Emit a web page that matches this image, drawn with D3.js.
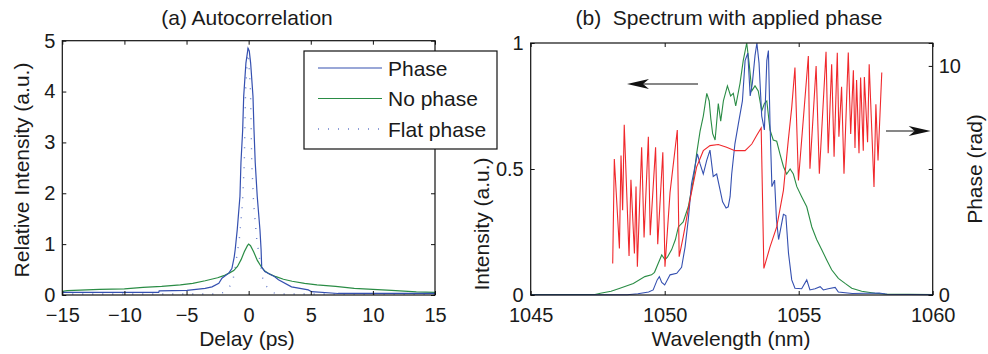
<!DOCTYPE html>
<html><head><meta charset="utf-8">
<script src="https://cdn.jsdelivr.net/npm/d3@7"></script>
<style>
html,body{margin:0;padding:0;background:#fff;}
text{font-family:"Liberation Sans",Arial,Helvetica,sans-serif;fill:#1a1a1a;}
</style></head>
<body><svg id="c" width="988" height="354"></svg>
<script>
// ---------- DATA ----------
// (a) autocorrelation
const acPhaseDelay = [-15,-7.24,-7.2,-4.96,-3.5,-2.95,-2.4,-2.15,-1.6,-1.35,-1.16,-1.08,-0.92,-0.7,-0.62,-0.48,-0.4,-0.22,-0.05,0.05,0.16,0.35,0.43,0.53,0.69,0.91,1.0,1.05,1.3,2.1,2.4,3.45,4.8,5.07,7.2,15];
const acPhase      = [0.05,0.05,0.08,0.09,0.13,0.16,0.23,0.33,0.43,0.52,0.75,0.9,1.28,1.94,2.6,3.25,3.9,4.56,4.85,4.8,4.56,3.9,3.25,2.6,1.94,1.28,0.9,0.55,0.46,0.36,0.3,0.16,0.1,0.065,0.03,0.03];
const acNoPhaseDelay = [-15,-14.6,-12,-10,-8.5,-7,-5.5,-4.5,-3.5,-2.5,-2,-1.5,-1.2,-0.9,-0.6,-0.35,-0.1,0,0.15,0.4,0.7,1.0,1.3,1.7,2.2,2.8,3.5,4.5,5.5,7,8.5,10,11.5,13.5,15];
const acNoPhase      = [0.07,0.085,0.11,0.12,0.15,0.17,0.2,0.23,0.28,0.34,0.38,0.44,0.48,0.56,0.7,0.85,0.97,1.0,0.97,0.85,0.68,0.56,0.47,0.41,0.36,0.31,0.27,0.23,0.2,0.17,0.13,0.11,0.09,0.06,0.05];
const acFlatDelay = [-15,-2.5,-2.0,-1.3,-1.05,-0.75,-0.5,-0.35,-0.25,-0.05,0.15,0.25,0.4,0.65,0.95,1.2,1.9,2.4,15];
const acFlat      = [0.02,0.02,0.05,0.23,0.6,1.1,1.8,2.6,4.0,4.85,4.0,2.6,1.8,1.1,0.6,0.23,0.05,0.02,0.02];
const legendLabels = ["Phase","No phase","Flat phase"];
// (b) spectrum
const specNoPhaseWl = [1045,1047.4,1047.6,1048.0,1048.33,1048.83,1049.26,1049.51,1049.62,1049.76,1049.89,1050.01,1050.1,1050.26,1050.4,1050.51,1050.69,1050.88,1051.07,1051.19,1051.32,1051.44,1051.57,1051.66,1051.72,1051.79,1051.88,1052.0,1052.09,1052.19,1052.34,1052.46,1052.56,1052.65,1052.81,1052.93,1053.06,1053.15,1053.25,1053.37,1053.49,1053.62,1053.72,1053.81,1053.93,1054.05,1054.18,1054.3,1054.43,1054.55,1054.68,1054.8,1054.93,1055.11,1055.3,1055.49,1055.67,1055.86,1056.04,1056.23,1056.48,1056.73,1056.98,1057.35,1057.85,1058.22,1060];
const specNoPhase   = [0.002,0.002,0.007,0.015,0.027,0.046,0.073,0.08,0.09,0.126,0.159,0.14,0.15,0.18,0.22,0.27,0.29,0.35,0.456,0.56,0.65,0.71,0.80,0.77,0.70,0.64,0.615,0.76,0.69,0.77,0.83,0.79,0.80,0.75,0.84,0.93,1.0,0.92,0.81,0.83,0.81,0.73,0.76,0.77,0.655,0.615,0.61,0.56,0.51,0.48,0.50,0.48,0.43,0.39,0.35,0.27,0.22,0.18,0.14,0.10,0.066,0.046,0.027,0.015,0.007,0.004,0.002];
const specPhaseWl = [1045,1048.6,1049.0,1049.4,1049.57,1049.72,1049.8,1049.89,1050.0,1050.2,1050.45,1050.63,1050.76,1050.88,1051.0,1051.13,1051.22,1051.32,1051.44,1051.57,1051.69,1051.81,1051.94,1052.06,1052.16,1052.29,1052.37,1052.44,1052.5,1052.62,1052.75,1052.9,1053.0,1053.1,1053.19,1053.27,1053.37,1053.44,1053.52,1053.62,1053.72,1053.81,1053.87,1053.93,1054.0,1054.1,1054.17,1054.25,1054.34,1054.43,1054.52,1054.62,1054.74,1054.86,1055.11,1055.3,1055.42,1055.61,1055.8,1055.92,1056.1,1056.36,1056.48,1057.0,1058.0,1058.3,1060];
const specPhase   = [0.001,0.001,0.005,0.012,0.02,0.06,0.073,0.05,0.04,0.08,0.086,0.11,0.19,0.30,0.44,0.51,0.56,0.52,0.48,0.535,0.575,0.47,0.48,0.42,0.37,0.345,0.35,0.39,0.48,0.6,0.68,0.77,0.93,0.96,0.79,0.84,0.95,1.0,0.92,0.71,0.655,0.93,0.97,0.68,0.43,0.456,0.30,0.22,0.27,0.32,0.315,0.165,0.06,0.027,0.025,0.06,0.02,0.025,0.033,0.02,0.025,0.03,0.012,0.006,0.008,0.003,0.001];
const phaseWl  = [1048.06,1048.12,1048.31,1048.37,1048.43,1048.49,1048.67,1048.74,1048.87,1048.93,1048.98,1049.14,1049.23,1049.39,1049.46,1049.66,1049.74,1049.93,1050.01,1050.2,1050.47,1050.54,1050.69,1050.94,1051.19,1051.44,1051.69,1052.0,1052.31,1052.62,1053.0,1053.25,1053.43,1053.6,1053.7,1053.93,1054.18,1054.43,1054.61,1054.74,1054.86,1054.99,1055.36,1055.42,1055.65,1055.77,1056.02,1056.1,1056.23,1056.32,1056.44,1056.5,1056.6,1056.69,1056.85,1056.94,1057.04,1057.1,1057.16,1057.25,1057.31,1057.41,1057.45,1057.57,1057.63,1057.81,1057.88,1057.96,1058.1];
const phaseRad = [1.38,5.94,2.03,6.09,3.70,7.43,1.70,5.03,1.81,4.74,1.23,6.45,2.51,6.91,2.61,6.45,2.22,6.23,1.23,4.49,7.20,1.67,2.54,4.13,5.58,6.30,6.52,6.57,6.45,6.30,6.30,6.59,6.96,7.29,1.16,2.10,2.97,4.57,6.74,8.19,9.93,5.0,10.43,5.51,10.0,5.29,10.62,6.19,10.07,6.04,10.57,6.91,9.09,5.29,10.58,7.03,9.81,6.42,9.38,6.19,9.49,6.30,9.52,6.67,10.07,4.71,8.33,5.87,9.71];
const xTicksA = [-15,-10,-5,0,5,10,15];
const yTicksA = [0,1,2,3,4,5];
const xTicksB = [1045,1050,1055,1060];
const yTicksB = [0,0.5,1];
const yTicksPhase = [0,10];

// ---------- DRAW ----------
const svg = d3.select("#c");
svg.append("rect").attr("width",988).attr("height",354).attr("fill","#fff");
const BLUE="#3550b0", GREEN="#2a8c45", RED="#f0282c", DOT="#6a7fcc";
const DOTDASH="1,9";

function axes(g, x, y, xt, yt, opts){
  const [x0,x1]=x.range(), [y0,y1]=y.range();
  g.append("g").attr("transform",`translate(0,${y0})`)
    .call(d3.axisBottom(x).tickValues(xt).tickSizeInner(-4).tickSizeOuter(0).tickPadding(12.5).tickFormat(d3.format("")));
  g.append("g").attr("transform",`translate(0,${y1})`)
    .call(d3.axisTop(x).tickValues(xt).tickSizeInner(-4).tickSizeOuter(0).tickFormat(""));
  g.append("g").attr("transform",`translate(${x0},0)`)
    .call(d3.axisLeft(y).tickValues(yt).tickSizeInner(-4).tickSizeOuter(0).tickPadding(7).tickFormat(d3.format("")));
  if(opts.mirrorY){
    g.append("g").attr("transform",`translate(${x1},0)`)
      .call(d3.axisRight(y).tickValues(yt).tickSizeInner(-4).tickSizeOuter(0).tickFormat(""));
  }
  g.selectAll(".domain").remove();
  g.selectAll(".tick line").attr("stroke","#111").attr("stroke-width",1);
  g.selectAll(".tick text").attr("font-size",20).attr("fill","#1a1a1a").attr("font-family",'"Liberation Sans",Arial,sans-serif');
  g.append("rect").attr("x",x0).attr("y",y1).attr("width",x1-x0).attr("height",y0-y1)
    .attr("fill","none").attr("stroke","#111").attr("stroke-width",1.2);
}

// Panel (a)
const gA = svg.append("g");
const xA = d3.scaleLinear([-15,15],[62.3,435]);
const yA = d3.scaleLinear([0,5],[295,40.7]);
const lineA = (X,Y)=>d3.line().x((d,i)=>xA(X[i])).y((d,i)=>yA(Y[i]))(X);
gA.append("path").attr("d",lineA(acFlatDelay,acFlat)).attr("fill","none").attr("stroke",DOT).attr("stroke-width",1.4).attr("stroke-dasharray",DOTDASH);
gA.append("path").attr("d",lineA(acNoPhaseDelay,acNoPhase)).attr("fill","none").attr("stroke",GREEN).attr("stroke-width",1.2);
gA.append("path").attr("d",lineA(acPhaseDelay,acPhase)).attr("fill","none").attr("stroke",BLUE).attr("stroke-width",1.2);
axes(gA,xA,yA,xTicksA,yTicksA,{mirrorY:true});
gA.append("text").attr("x",247).attr("y",25).attr("text-anchor","middle").attr("font-size",21).text("(a) Autocorrelation");
gA.append("text").attr("x",247).attr("y",346).attr("text-anchor","middle").attr("font-size",21).text("Delay (ps)");
gA.append("text").attr("transform","translate(28.5,170) rotate(-90)").attr("text-anchor","middle").attr("font-size",21).text("Relative Intensity (a.u.)");

// Panel (b)
const gB = svg.append("g");
const xB = d3.scaleLinear([1045,1060],[530.7,932.7]);
const yB = d3.scaleLinear([0,1],[295,43]);
const yPh = d3.scaleLinear([0,11],[295,43]);
const lineB = (X,Y,ys)=>d3.line().x((d,i)=>xB(X[i])).y((d,i)=>ys(Y[i]))(X);
gB.append("path").attr("d",lineB(specNoPhaseWl,specNoPhase,yB)).attr("fill","none").attr("stroke",GREEN).attr("stroke-width",1.1);
gB.append("path").attr("d",lineB(specPhaseWl,specPhase,yB)).attr("fill","none").attr("stroke",BLUE).attr("stroke-width",1.1);
gB.append("path").attr("d",lineB(phaseWl,phaseRad,yPh)).attr("fill","none").attr("stroke",RED).attr("stroke-width",1.1);
axes(gB,xB,yB,xTicksB,yTicksB,{mirrorY:true});
const ry = gB.append("g").attr("transform","translate(932.7,0)")
  .call(d3.axisRight(yPh).tickValues(yTicksPhase).tickSizeInner(-4).tickSizeOuter(0).tickPadding(6));
ry.select(".domain").remove();
ry.selectAll(".tick line").attr("stroke","#111");
ry.selectAll(".tick text").attr("font-size",20).attr("fill","#1a1a1a").attr("font-family",'"Liberation Sans",Arial,sans-serif');
gB.append("text").attr("x",729).attr("y",25).attr("text-anchor","middle").attr("font-size",21).style("white-space","pre").text("(b)  Spectrum with applied phase");
gB.append("text").attr("x",731).attr("y",346).attr("text-anchor","middle").attr("font-size",21).text("Wavelength (nm)");
gB.append("text").attr("transform","translate(488.5,224) rotate(-90)").attr("text-anchor","middle").attr("font-size",21).text("Intensity (a.u.)");
gB.append("text").attr("transform","translate(981.5,169) rotate(-90)").attr("text-anchor","middle").attr("font-size",21).text("Phase (rad)");

// arrows
function arrow(x1,x2,y){
  const dir = Math.sign(x2-x1), L=22, H=5, N=6;
  gB.append("line").attr("x1",x1).attr("x2",x2-dir*N*2).attr("y1",y).attr("y2",y).attr("stroke","#111").attr("stroke-width",1.2);
  gB.append("path").attr("d",`M${x2},${y} L${x2-dir*L},${y-H} L${x2-dir*(L-N)},${y} L${x2-dir*L},${y+H} Z`).attr("fill","#111");
}
arrow(698,627,84);
arrow(886,930.7,131);

// legend
const lg = svg.append("g");
lg.append("rect").attr("x",304).attr("y",51).attr("width",193).attr("height",98).attr("fill","#fff").attr("stroke","#111").attr("stroke-width",1.2);
const legStyles=[{c:BLUE,d:null,w:1.2},{c:GREEN,d:null,w:1.2},{c:DOT,d:DOTDASH,w:1.4}];
legendLabels.forEach((t,i)=>{
  const y=68+i*30.5;
  lg.append("line").attr("x1",318).attr("x2",382).attr("y1",y).attr("y2",y).attr("stroke",legStyles[i].c).attr("stroke-width",legStyles[i].w).attr("stroke-dasharray",legStyles[i].d);
  lg.append("text").attr("x",388).attr("y",y+7.5).attr("font-size",21).text(t);
});
</script></body></html>
